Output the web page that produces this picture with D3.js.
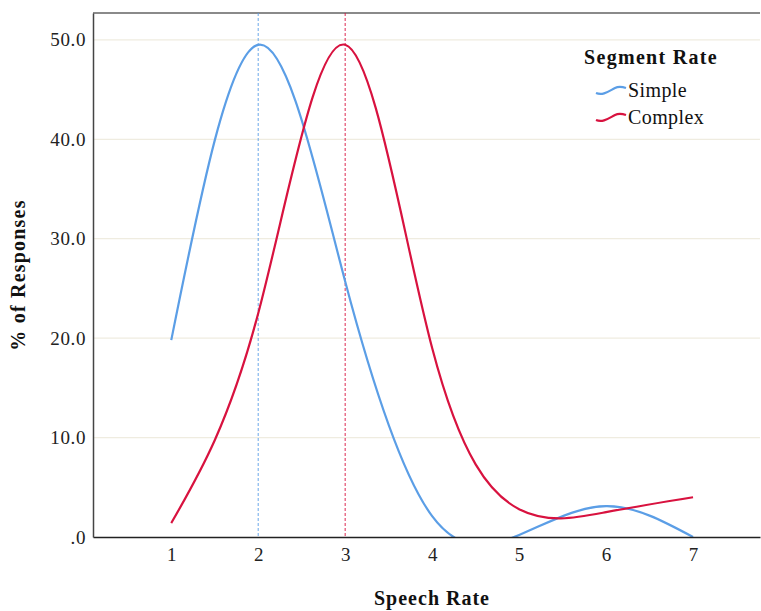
<!DOCTYPE html>
<html><head><meta charset="utf-8">
<script src="https://cdn.jsdelivr.net/npm/d3@7"></script>
<style>body{margin:0;background:#fff;} text{font-family:"Liberation Serif","DejaVu Serif",serif;}</style>
</head><body>
<svg id="c" width="761" height="611"></svg>
<script>
const speechRates = [1, 2, 3, 4, 5, 6, 7];
const simpleValues = [19.8, 49.5, 25.7, 2.1, 0.2, 3.1, 0.0];
const complexValues = [1.4, 22.5, 49.5, 19.0, 2.8, 2.5, 4.0];
const yTicks = [0, 10, 20, 30, 40, 50];
const yTickLabels = [".0", "10.0", "20.0", "30.0", "40.0", "50.0"];
const seriesNames = ["Simple", "Complex"];
const modes = [2, 3];

const colors = ["#5b9ee6", "#d8123f"];
const svg = d3.select("#c");
const L = 93, R = 760, T = 13, B = 537;
const x = d3.scaleLinear().domain([0.1, 7.77]).range([L, R]);
const y = d3.scaleLinear().domain([0, 52.7]).range([B, T]);

// gridlines
svg.append("g").selectAll("line").data(yTicks.filter(d => d > 0)).join("line")
  .attr("x1", L).attr("x2", R).attr("y1", d => y(d)).attr("y2", d => y(d))
  .attr("stroke", "#efece0").attr("stroke-width", 1.2);

// top border
svg.append("line").attr("x1", L).attr("x2", R).attr("y1", T).attr("y2", T)
  .attr("stroke", "#8a8a8a").attr("stroke-width", 2);

// clip
svg.append("clipPath").attr("id", "clip").append("rect")
  .attr("x", L).attr("y", T).attr("width", R - L).attr("height", B - T);

// mode lines
svg.append("g").selectAll("line").data(modes).join("line")
  .attr("x1", d => x(d)).attr("x2", d => x(d)).attr("y1", T).attr("y2", B)
  .attr("stroke", (d, i) => colors[i]).attr("stroke-width", 1.2)
  .attr("stroke-opacity", 0.75)
  .attr("stroke-dasharray", "3,2");

const line = d3.line().x(d => x(d[0])).y(d => y(d[1])).curve(d3.curveNatural);
const series = [simpleValues, complexValues];
svg.append("g").attr("clip-path", "url(#clip)").selectAll("path").data(series).join("path")
  .attr("d", v => line(speechRates.map((r, i) => [r, v[i]])))
  .attr("fill", "none").attr("stroke", (d, i) => colors[i]).attr("stroke-width", 2.2);

// axes
const xAxis = svg.append("g").attr("transform", `translate(0,${B})`)
  .call(d3.axisBottom(x).tickValues(speechRates).tickSize(0).tickPadding(11));
xAxis.select(".domain").attr("stroke", "#222").attr("stroke-width", 1.5);
xAxis.selectAll("text").attr("font-size", 19).attr("fill", "#222")
  .style("font-family", '"Liberation Serif",serif');

const yAxis = svg.append("g").attr("transform", `translate(${L},0)`)
  .call(d3.axisLeft(y).tickValues(yTicks).tickSize(0).tickPadding(7)
    .tickFormat((d, i) => yTickLabels[i]));
yAxis.select(".domain").attr("stroke", "#444").attr("stroke-width", 1.5);
yAxis.selectAll("text").attr("font-size", 19).attr("fill", "#222")
  .attr("letter-spacing", 0.6)
  .style("font-family", '"Liberation Serif",serif');

// axis titles
svg.append("text").attr("x", 432).attr("y", 605)
  .attr("text-anchor", "middle").attr("font-size", 20).attr("font-weight", "bold")
  .attr("letter-spacing", 1).attr("fill", "#111").text("Speech Rate");
svg.append("text").attr("transform", `translate(25,275) rotate(-90)`)
  .attr("text-anchor", "middle").attr("font-size", 20).attr("font-weight", "bold")
  .attr("letter-spacing", 1.2).attr("fill", "#111").text("% of Responses");

// legend
svg.append("text").attr("x", 651).attr("y", 64).attr("text-anchor", "middle")
  .attr("font-size", 20).attr("font-weight", "bold").attr("letter-spacing", 1.3)
  .attr("fill", "#111").text("Segment Rate");
const lg = svg.append("g").selectAll("g").data(seriesNames).join("g")
  .attr("transform", (d, i) => `translate(596,${91 + i * 27})`);
lg.append("path").attr("d", "M0,2 C7,5 13,0 19,-3 C23,-5 27,-4 30,-3")
  .attr("fill", "none").attr("stroke", (d, i) => colors[i]).attr("stroke-width", 2.2);
lg.append("text").attr("x", 32).attr("y", 6).attr("font-size", 20)
  .attr("letter-spacing", 0.4).attr("fill", "#111").text(d => d);
</script>
</body></html>
